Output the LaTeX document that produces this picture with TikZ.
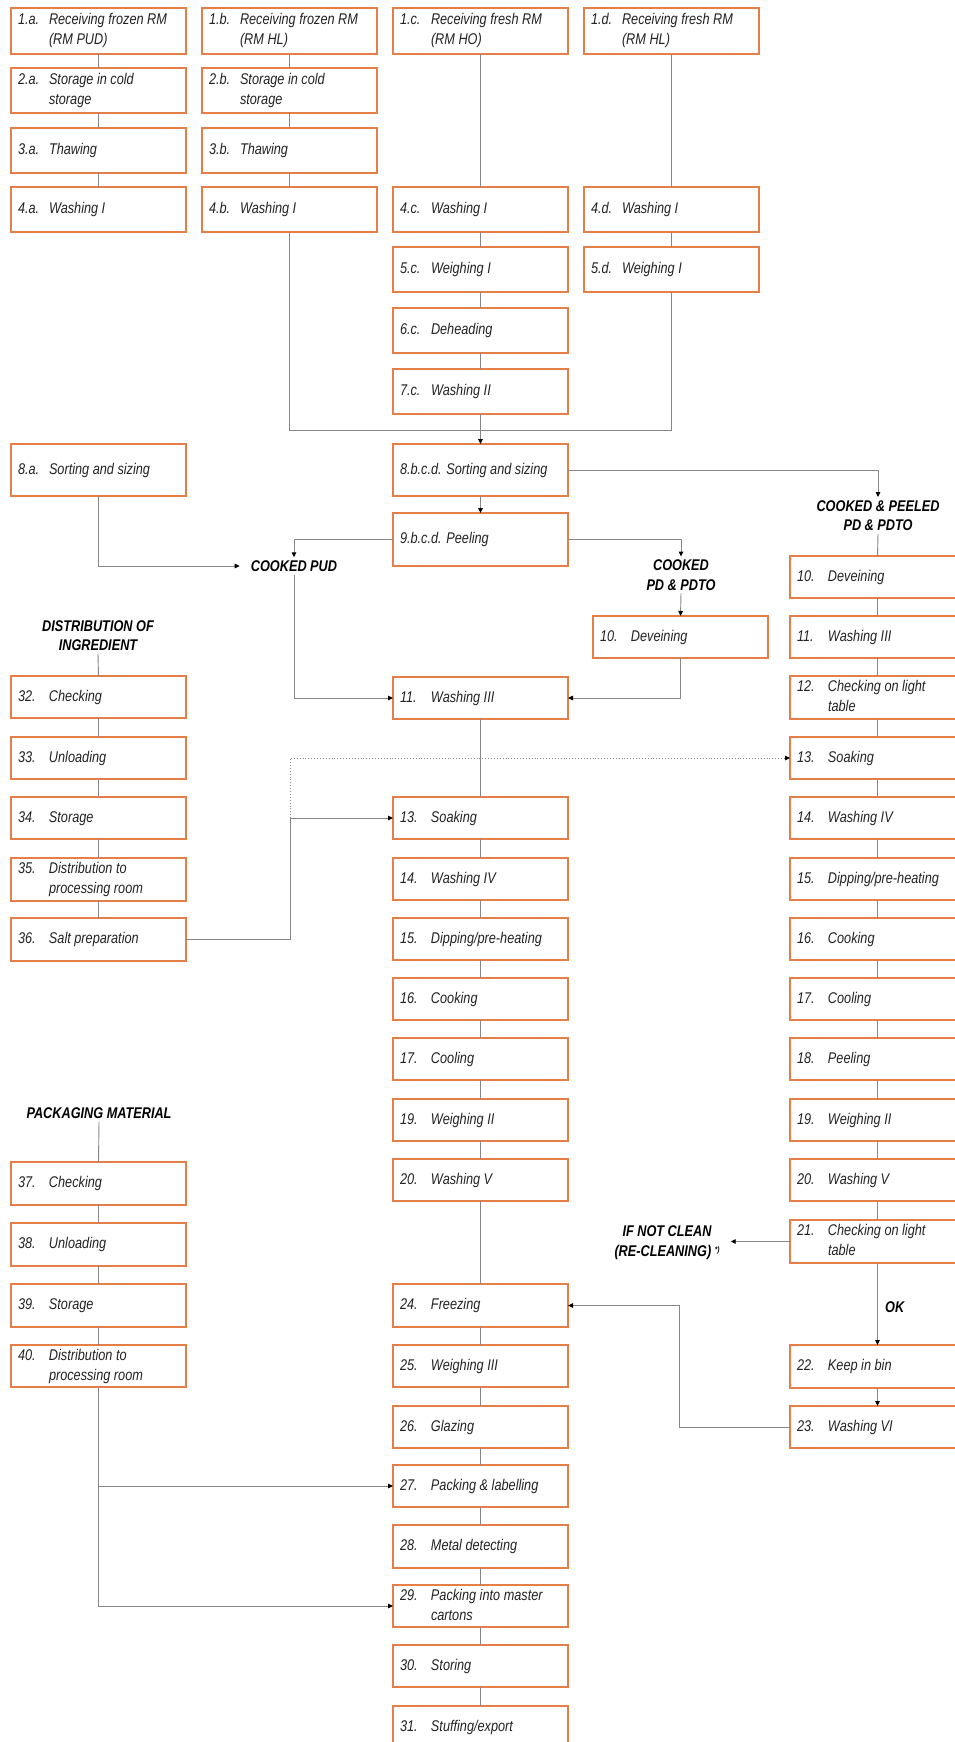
\documentclass[tikz,border=0pt]{standalone}
\usepackage{fontspec}
\setmainfont{Liberation Sans}[FakeStretch=0.82]
\usetikzlibrary{arrows.meta}
\definecolor{boxorange}{RGB}{230,126,72}
\definecolor{linegray}{RGB}{135,135,135}
\definecolor{txtgray}{RGB}{35,35,35}
\newcommand\stp[2]{\makebox[161pt][l]{\makebox[31pt][l]{#1}\begin{tabular}[t]{@{}l@{}}#2\end{tabular}}}
\newcommand\stpi[1]{\makebox[161pt][l]{\begin{tabular}[t]{@{}l@{}}#1\end{tabular}}}
\begin{document}
\begin{tikzpicture}[x=1pt,y=-1pt,
  box/.style={draw=boxorange, line width=1.5pt, inner xsep=7pt, inner ysep=0pt, outer sep=0pt,
    minimum width=175pt, anchor=north west, text=txtgray,
    font=\fontsize{15.5}{20}\selectfont\itshape},
  hA/.style={minimum height=46pt},
  hB/.style={minimum height=45pt},
  hC/.style={minimum height=52pt},
  hD/.style={minimum height=42pt},
  hE/.style={minimum height=43pt},
  lbl/.style={font=\fontsize{15.5}{19.5}\selectfont\bfseries\itshape, align=center, inner sep=3pt, text=black},
  ln/.style={draw=linegray, line width=0.9pt},
  arr/.style={ln, -{Triangle[length=5pt,width=4.5pt,color=black]}}
]
\useasboundingbox (0,0) rectangle (955,1742);
\clip (0,0) rectangle (955,1742);
\fill[white] (0,0) rectangle (955,1742);

% ---------- top rows ----------
\node[box,hA] (a1) at (11,8)  {\stp{1.a.}{Receiving frozen RM\\(RM PUD)}};
\node[box,hA] (b1) at (202,8) {\stp{1.b.}{Receiving frozen RM\\(RM HL)}};
\node[box,hA] (c1) at (393,8) {\stp{1.c.}{Receiving fresh RM\\(RM HO)}};
\node[box,hA] (d1) at (584,8) {\stp{1.d.}{Receiving fresh RM\\(RM HL)}};
\node[box,hB] (a2) at (11,68)  {\stp{2.a.}{Storage in cold\\storage}};
\node[box,hB] (b2) at (202,68) {\stp{2.b.}{Storage in cold\\storage}};
\node[box,hB] (a3) at (11,128)  {\stp{3.a.}{Thawing}};
\node[box,hB] (b3) at (202,128) {\stp{3.b.}{Thawing}};
\node[box,hB] (a4) at (11,187)  {\stp{4.a.}{Washing I}};
\node[box,hB] (b4) at (202,187) {\stp{4.b.}{Washing I}};
\node[box,hB] (c4) at (393,187) {\stp{4.c.}{Washing I}};
\node[box,hB] (d4) at (584,187) {\stp{4.d.}{Washing I}};
\node[box,hB] (c5) at (393,247) {\stp{5.c.}{Weighing I}};
\node[box,hB] (d5) at (584,247) {\stp{5.d.}{Weighing I}};
\node[box,hB] (c6) at (393,308) {\stp{6.c.}{Deheading}};
\node[box,hB] (c7) at (393,369) {\stp{7.c.}{Washing II}};

\node[box,hC] (a8) at (11,444)  {\stp{8.a.}{Sorting and sizing}};
\node[box,hC] (c8) at (393,444) {\stpi{8.b.c.d. Sorting and sizing}};
\node[box,minimum height=53pt] (c9) at (393,513) {\stpi{9.b.c.d. Peeling}};

% ---------- labels ----------
\node[lbl] (lcp) at (878,515.5) {COOKED \& PEELED\\PD \& PDTO};
\node[lbl] (lpd) at (681,575) {COOKED\\PD \& PDTO};
\node[lbl] (lpud) at (294,566) {COOKED PUD};
\node[lbl] (ldi) at (98,635.5) {DISTRIBUTION OF\\INGREDIENT};
\node[lbl] (lpm) at (99,1113) {PACKAGING MATERIAL};
\node[lbl] (lnc) at (667,1242.5) {IF NOT CLEAN\\(RE-CLEANING) \raisebox{4pt}{\fontsize{8}{8}\selectfont *)}};
\node[lbl, anchor=west] (lok) at (882,1307) {OK};

% ---------- middle column ----------
\node[box,hD] (d10) at (593,616) {\stp{10.}{Deveining}};
\node[box,hD] (c11) at (393,677) {\stp{11.}{Washing III}};
\node[box,hD] (c13) at (393,797) {\stp{13.}{Soaking}};
\node[box,hD] (c14) at (393,858) {\stp{14.}{Washing IV}};
\node[box,hD] (c15) at (393,918) {\stp{15.}{Dipping/pre-heating}};
\node[box,hD] (c16) at (393,978) {\stp{16.}{Cooking}};
\node[box,hD] (c17) at (393,1038) {\stp{17.}{Cooling}};
\node[box,hD] (c19) at (393,1099) {\stp{19.}{Weighing II}};
\node[box,hD] (c20) at (393,1159) {\stp{20.}{Washing V}};
\node[box,hE] (c24) at (393,1284) {\stp{24.}{Freezing}};
\node[box,hD] (c25) at (393,1345) {\stp{25.}{Weighing III}};
\node[box,hD] (c26) at (393,1406) {\stp{26.}{Glazing}};
\node[box,hD] (c27) at (393,1465) {\stp{27.}{Packing \& labelling}};
\node[box,hE] (c28) at (393,1525) {\stp{28.}{Metal detecting}};
\node[box,hD] (c29) at (393,1585) {\stp{29.}{Packing into master\\cartons}};
\node[box,hD] (c30) at (393,1645) {\stp{30.}{Storing}};
\node[box,hD] (c31) at (393,1706) {\stp{31.}{Stuffing/export}};

% ---------- right column ----------
\node[box,hD] (e10) at (790,556) {\stp{10.}{Deveining}};
\node[box,hD] (e11) at (790,616) {\stp{11.}{Washing III}};
\node[box,hE] (e12) at (790,676) {\stp{12.}{Checking on light\\table}};
\node[box,hD] (e13) at (790,737) {\stp{13.}{Soaking}};
\node[box,hD] (e14) at (790,797) {\stp{14.}{Washing IV}};
\node[box,hD] (e15) at (790,858) {\stp{15.}{Dipping/pre-heating}};
\node[box,hD] (e16) at (790,918) {\stp{16.}{Cooking}};
\node[box,hD] (e17) at (790,978) {\stp{17.}{Cooling}};
\node[box,hD] (e18) at (790,1038) {\stp{18.}{Peeling}};
\node[box,hD] (e19) at (790,1099) {\stp{19.}{Weighing II}};
\node[box,hD] (e20) at (790,1159) {\stp{20.}{Washing V}};
\node[box,hE] (e21) at (790,1220) {\stp{21.}{Checking on light\\table}};
\node[box,hE] (e22) at (790,1345) {\stp{22.}{Keep in bin}};
\node[box,hD] (e23) at (790,1406) {\stp{23.}{Washing VI}};

% ---------- left lower ----------
\node[box,hD] (a32) at (11,676) {\stp{32.}{Checking}};
\node[box,hD] (a33) at (11,737) {\stp{33.}{Unloading}};
\node[box,hD] (a34) at (11,797) {\stp{34.}{Storage}};
\node[box,hE] (a35) at (11,858) {\stp{35.}{Distribution to\\processing room}};
\node[box,hE] (a36) at (11,918) {\stp{36.}{Salt preparation}};
\node[box,hE] (p37) at (11,1162) {\stp{37.}{Checking}};
\node[box,hE] (p38) at (11,1223) {\stp{38.}{Unloading}};
\node[box,hE] (p39) at (11,1284) {\stp{39.}{Storage}};
\node[box,hD] (p40) at (11,1345) {\stp{40.}{Distribution to\\processing room}};

% ---------- connectors: top ----------
\draw[ln] (a1) -- (a2); \draw[ln] (a2) -- (a3); \draw[ln] (a3) -- (a4);
\draw[ln] (b1) -- (b2); \draw[ln] (b2) -- (b3); \draw[ln] (b3) -- (b4);
\draw[ln] (c1) -- (c4); \draw[ln] (c4) -- (c5); \draw[ln] (c5) -- (c6); \draw[ln] (c6) -- (c7);
\draw[ln] (d1) -- (d4); \draw[ln] (d4) -- (d5);
\coordinate (m) at (480.5,430);
\draw[ln] (b4.south) |- (m);
\draw[ln] (d5.south) |- (m);
\draw[arr] (c7) -- (c8);
\draw[arr] (c8) -- (c9);

% ---------- branches ----------
\draw[arr] (c8.east) -| (lcp.north);
\draw[ln] (lcp.south) -- (e10.north);
\draw[arr] (c9.east) -| (lpd.north);
\draw[arr] (lpd.south) -- (d10.north);
\draw[arr] (d10.south) |- (c11.east);
\draw[arr] (c9.west) -| (lpud.north);
\draw[arr, shorten >=8pt] (a8.south) |- (lpud.west);
\draw[arr] (lpud.south) |- (c11.west);

% ---------- middle column ----------
\draw[ln] (c11) -- (c13);
\draw[ln] (c13) -- (c14); \draw[ln] (c14) -- (c15); \draw[ln] (c15) -- (c16);
\draw[ln] (c16) -- (c17); \draw[ln] (c17) -- (c19); \draw[ln] (c19) -- (c20);
\draw[ln] (c20) -- (c24); \draw[ln] (c24) -- (c25); \draw[ln] (c25) -- (c26);
\draw[ln] (c26) -- (c27); \draw[ln] (c27) -- (c28); \draw[ln] (c28) -- (c29);
\draw[ln] (c29) -- (c30); \draw[ln] (c30) -- (c31);

% ---------- right column ----------
\draw[ln] (e10) -- (e11); \draw[ln] (e11) -- (e12); \draw[ln] (e12) -- (e13);
\draw[ln] (e13) -- (e14); \draw[ln] (e14) -- (e15); \draw[ln] (e15) -- (e16);
\draw[ln] (e16) -- (e17); \draw[ln] (e17) -- (e18); \draw[ln] (e18) -- (e19);
\draw[ln] (e19) -- (e20); \draw[ln] (e20) -- (e21);
\draw[arr] (e21) -- (e22);
\draw[arr] (e22) -- (e23);
\draw[arr, shorten >=8pt] (e21.west) -- (e21.west -| lnc.east);
\coordinate (bend) at (679,1305.5);
\draw[arr] (e23.west) -| (bend) -- (c24.east);

% ---------- ingredients ----------
\draw[ln] (ldi.south) -- (a32.north);
\draw[ln] (a32) -- (a33); \draw[ln] (a33) -- (a34); \draw[ln] (a34) -- (a35); \draw[ln] (a35) -- (a36);
\coordinate (j1) at (290,818);
\draw[arr] (a36.east) -| (j1) -- (c13.west);
\draw[arr, dotted] (j1) |- (e13.west);

% ---------- packaging ----------
\draw[ln] (lpm.south) -- (p37.north);
\draw[ln] (p37) -- (p38); \draw[ln] (p38) -- (p39); \draw[ln] (p39) -- (p40);
\draw[arr] (p40.south) |- (c27.west);
\draw[arr] (p40.south) |- (c29.west);
\end{tikzpicture}
\end{document}
